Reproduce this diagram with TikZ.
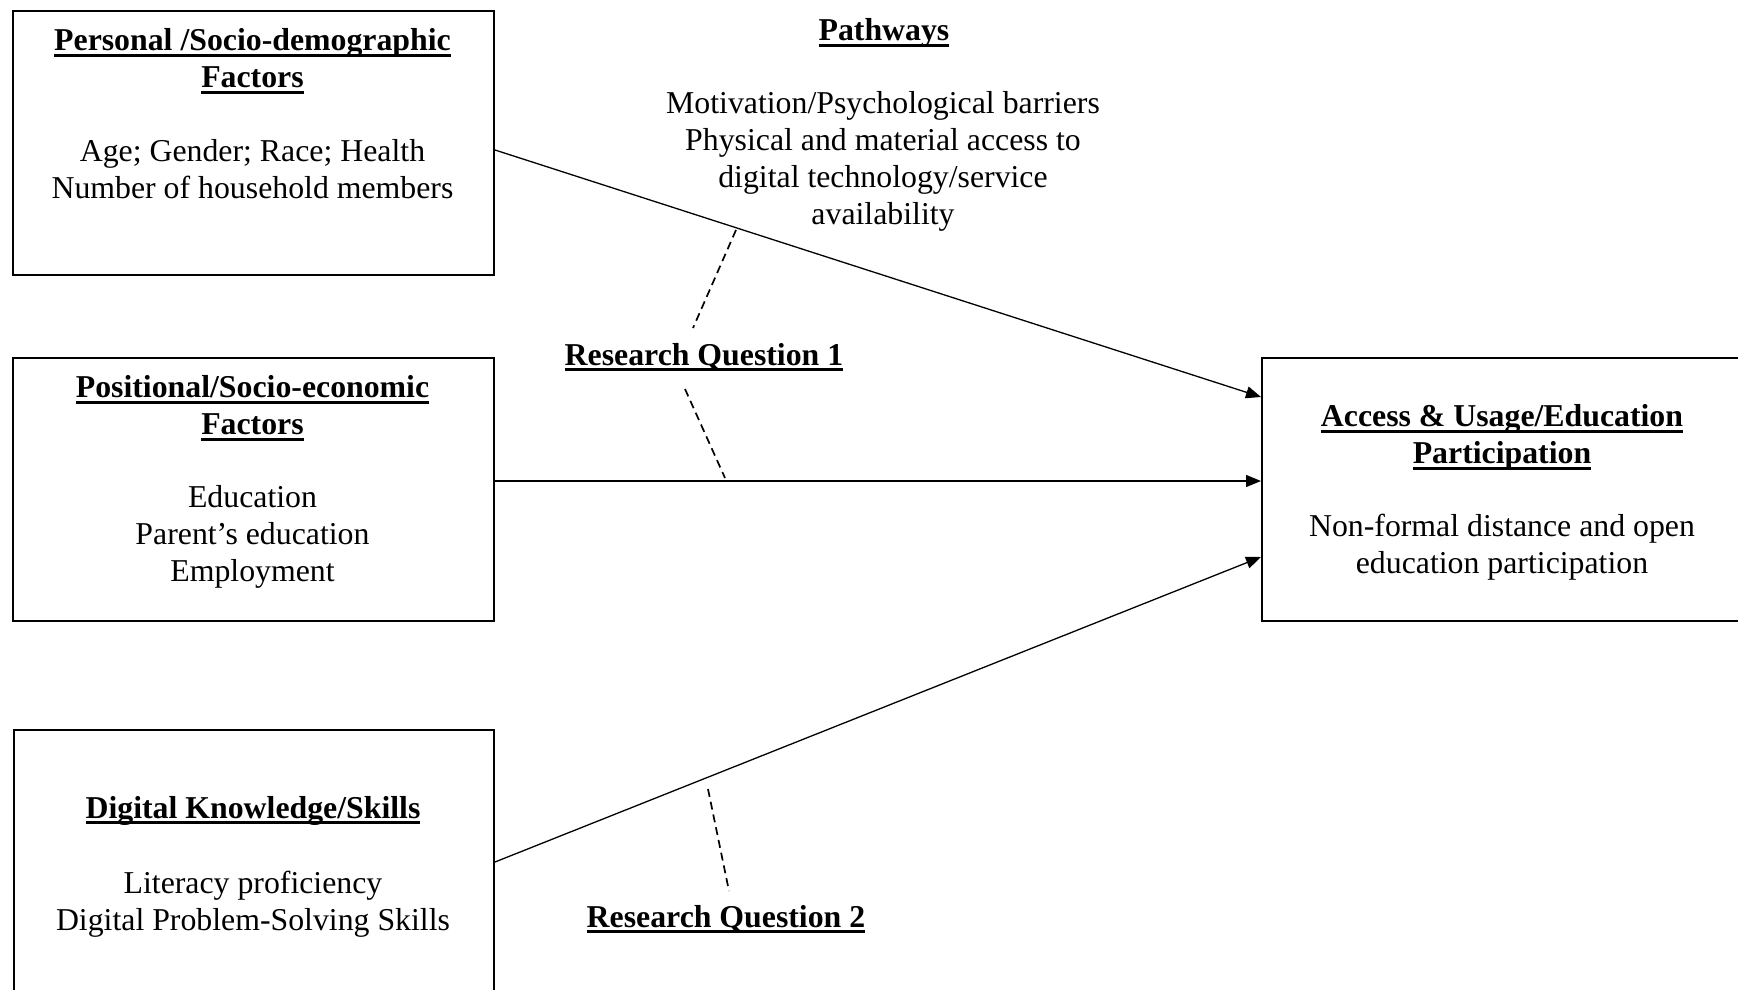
\documentclass[tikz,border=0pt]{standalone}
\usepackage{fontspec}
\setmainfont{Liberation Serif}
\usetikzlibrary{arrows.meta,calc}
\newcommand{\hd}[1]{\setbox0\hbox{\textbf{#1}}\rlap{\rule[-6pt]{\wd0}{2.8pt}}\box0}
\begin{document}
\begin{tikzpicture}[x=1pt,y=-1pt,
  box/.style={draw, line width=2pt, inner sep=0pt, anchor=north west},
  txt/.style={font=\fontsize{31.8}{37}\selectfont, align=center, anchor=base, inner sep=0pt},
  arr/.style={line width=1.3pt, -{Triangle[length=15pt,width=12pt]}},
  rq/.style={line width=1.7pt, dash pattern=on 8pt off 5pt}]
\useasboundingbox (0,0) rectangle (1738,990);
% boxes
\node[box, minimum width=481pt, minimum height=264pt] (b1) at (12,10) {};
\node[box, minimum width=481pt, minimum height=263pt] (b2) at (12,357) {};
\node[box, minimum width=480pt, minimum height=275pt] (b3) at (13,729) {};
\node[box, minimum width=490pt, minimum height=263pt] (b4) at (1261,357) {};
% box texts (base anchor = baseline of last line)
\node[txt] (t1) at (252.5,88) {\hd{Personal /Socio-demographic}\\\hd{Factors}};
\node[txt] (d1) at (252.5,198) {Age; Gender; Race; Health\\Number of household members};
\node[txt] (t2) at (252.5,434.5) {\hd{Positional/Socio-economic}\\\hd{Factors}};
\node[txt] (d2) at (252.5,581.5) {Education\\Parent’s education\\Employment};
\node[txt] (t3) at (253,818) {\hd{Digital Knowledge/Skills}};
\node[txt] (d3) at (253,930) {Literacy proficiency\\Digital Problem-Solving Skills};
\node[txt] (t4) at (1502,463.5) {\hd{Access \& Usage/Education}\\\hd{Participation}};
\node[txt] (d4) at (1502,573.5) {Non-formal distance and open\\education participation};
% pathways
\node[txt] (pw) at (884,41) {\hd{Pathways}};
\node[txt] (pwd) at (883,224) {Motivation/Psychological barriers\\Physical and material access to\\digital technology/service\\availability};
\node[txt] (rq1) at (704,365) {\hd{Research Question 1}};
\node[txt] (rq2) at (726,927) {\hd{Research Question 2}};
% connectors
\draw[arr] (b1.east |- 0,150) -- (b4.west |- 0,397);
\draw[arr] (b2.east |- 0,481) -- (b4.west |- 0,481);
\draw[arr] (b3.east |- 0,862) -- (b4.west |- 0,557);
% dashed
\coordinate (q1a) at (736,230);
\coordinate (q1b) at (693,328);
\coordinate (q1c) at (685,389);
\coordinate (q1d) at (725,478);
\coordinate (q2a) at (708,789);
\coordinate (q2b) at (729,891);
\draw[rq] (q1a) -- (q1b);
\draw[rq] (q1c) -- (q1d);
\draw[rq] (q2a) -- (q2b);
\end{tikzpicture}
\end{document}
